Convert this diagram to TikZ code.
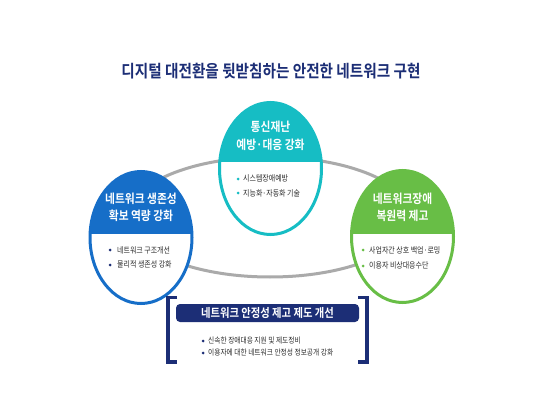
\documentclass[tikz,border=0pt]{standalone}
\usepackage{fontspec}
\setmainfont{Noto Sans CJK KR}[FakeStretch=0.84]
\newfontfamily\krb{Noto Sans CJK KR Bold}[FakeStretch=0.86]
\usetikzlibrary{shapes.geometric}
\definecolor{navy}{RGB}{28,46,118}
\definecolor{tealc}{RGB}{22,189,196}
\definecolor{bluec}{RGB}{22,110,200}
\definecolor{greenc}{RGB}{104,190,70}
\definecolor{ringc}{RGB}{170,170,170}
\definecolor{txt}{RGB}{45,45,45}
\tikzset{
  x=1pt,y=-1pt,
  bubble/.style={ellipse, draw=#1, fill=white, line width=3pt, inner sep=0pt,
     minimum width=102pt, minimum height=132pt},
  head/.style={text=white, font=\krb\fontsize{12.5}{17.5}\selectfont, align=center, inner sep=0pt},
  items/.style={text=txt, font=\fontsize{8.3}{14.5}\selectfont, align=left, inner sep=0pt},
  dot/.style={circle, fill=#1, minimum size=3pt, inner sep=0pt},
  bracket/.style={draw=navy, line width=3.5pt}
}
\begin{document}
\begin{tikzpicture}
\useasboundingbox[fill=white] (0,0) rectangle (539,404);
% title
\node[text=navy, font=\krb\fontsize{17}{20}\selectfont, inner sep=0pt] (title) at (271,71) {디지털 대전환을 뒷받침하는 안전한 네트워크 구현};
% ring
\draw[ringc, line width=3pt] (270,217) ellipse [x radius=142, y radius=60];
% top bubble
\node[bubble=tealc, path picture={\fill[tealc] (path picture bounding box.north west) rectangle ([yshift=6pt]path picture bounding box.east);}] (top) at (270.5,168.5) {};
\node[head] (toph) at (270.5,136) {통신재난\\예방·대응 강화};
\node[items, anchor=west] (topi) at (243,186) {시스템장애예방\\지능화·자동화 기술};
\node[dot=tealc] (topd1) at (238,179) {};
\node[dot=tealc] (topd2) at (238,193) {};
% left bubble
\node[bubble=bluec, path picture={\fill[bluec] (path picture bounding box.north west) rectangle ([yshift=3.5pt]path picture bounding box.east);}] (left) at (141,237.5) {};
\node[head] (lefth) at (141,207.5) {네트워크 생존성\\확보 역량 강화};
\node[items, anchor=west] (lefti) at (117,257.5) {네트워크 구조개선\\물리적 생존성 강화};
\node[dot=navy] (leftd1) at (110,250) {};
\node[dot=navy] (leftd2) at (110,265) {};
% right bubble
\node[bubble=greenc, path picture={\fill[greenc] (path picture bounding box.north west) rectangle ([yshift=2.5pt]path picture bounding box.east);}] (right) at (402.5,236.5) {};
\node[head] (righth) at (402.5,207.5) {네트워크장애\\복원력 제고};
\node[items, anchor=west] (righti) at (369,258) {사업자간 상호 백업·로밍\\이용자 비상대응수단};
\node[dot=greenc] (rightd1) at (363,250) {};
\node[dot=greenc] (rightd2) at (363,266) {};
% bottom box
\node[fill=navy, rounded corners=4pt, minimum width=183pt, minimum height=18pt, inner sep=0pt,
      text=white, font=\krb\fontsize{12}{14}\selectfont] (bot) at (267.5,313) {네트워크 안정성 제고 제도 개선};
\node[items, anchor=west, font=\fontsize{8}{12}\selectfont] (boti) at (208,347) {신속한 장애대응 지원 및 제도정비\\이용자에 대한 네트워크 안정성 정보공개 강화};
\node[dot=navy] (botd1) at (203,341) {};
\node[dot=navy] (botd2) at (203,353) {};
% brackets
\coordinate (lb1) at (177,297.5);
\coordinate (lb2) at (168,297.5);
\coordinate (lb3) at (168,362);
\coordinate (lb4) at (177,362);
\draw[bracket] (lb1) -- (lb2) -- (lb3) -- (lb4);
\coordinate (rb1) at (358,297.5);
\coordinate (rb2) at (367,297.5);
\coordinate (rb3) at (367,362);
\coordinate (rb4) at (358,362);
\draw[bracket] (rb1) -- (rb2) -- (rb3) -- (rb4);
\end{tikzpicture}
\end{document}
